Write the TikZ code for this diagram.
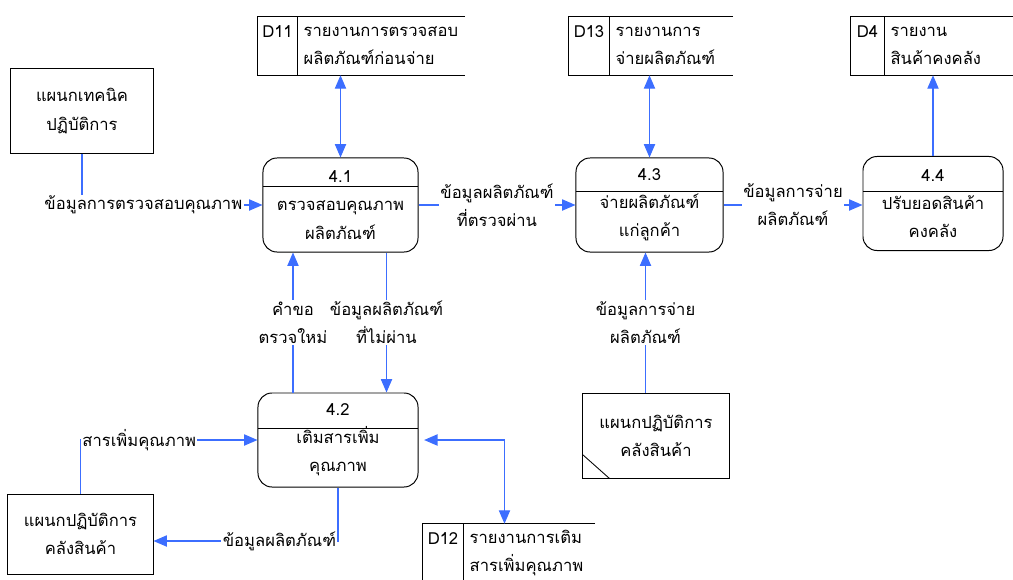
\documentclass[tikz,border=0pt]{standalone}
\usepackage{fontspec}
\setmainfont[Script=Thai]{Loma}
\usepackage{xcolor}
\usepackage{tikz}
\usetikzlibrary{positioning,arrows.meta,calc}
\definecolor{flowblue}{RGB}{60,110,255}

\begin{document}
\begin{tikzpicture}[
  x=0.025cm, y=-0.025cm,
  font=\fontsize{11.8pt}{20pt}\selectfont,
  ent/.style={draw, line width=0.7pt, minimum height=2.1cm, align=center},
  proc/.style={draw, line width=0.7pt, rounded corners=10pt, minimum height=2.35cm, align=center,
    path picture={\draw[line width=0.7pt] ([yshift=-#1]path picture bounding box.north west) -- ([yshift=-#1]path picture bounding box.north east);}},
  store/.style={minimum height=1.45cm, inner xsep=4pt, align=left},
  sid/.style={minimum height=1.45cm, inner sep=0pt, align=center},
  arr/.style={-{Triangle[length=9.5pt,width=8pt]}, draw=flowblue, line width=0.75pt},
  darr/.style={{Triangle[length=9.5pt,width=8pt]}-{Triangle[length=9.5pt,width=8pt]}, draw=flowblue, line width=0.75pt},
  lbl/.style={fill=white, inner sep=1pt, align=center},
  node distance=0pt]
  \useasboundingbox (0,0) rectangle (1013,579);
  \node[proc=20pt, minimum width=3.875cm] (p41) at (340.5,205) {4.1\\ตรวจสอบคุณภาพ\\ผลิตภัณฑ์};
  \node[proc=23.5pt, minimum width=3.675cm] (p43) at (649.5,205) {4.3\\จ่ายผลิตภัณฑ์\\แก่ลูกค้า};
  \node[proc=25pt, minimum width=3.5cm] (p44) at (933,203.5) {4.4\\ปรับยอดสินค้า\\คงคลัง};
  \node[proc=25.5pt, minimum width=4cm] (p42) at (338,440) {4.2\\เติมสารเพิ่ม\\คุณภาพ};
  \node[ent, minimum width=3.55cm] (tech) at (82,111) {แผนกเทคนิค\\ปฏิบัติการ};
  \node[ent, minimum width=3.625cm, minimum height=2cm] (stock) at (80.5,534) {แผนกปฏิบัติการ\\คลังสินค้า};
  \node[ent, minimum width=3.65cm, minimum height=2.125cm] (stockb) at (656,435.5) {แผนกปฏิบัติการ\\คลังสินค้า};
  \node[store, text width=3.89cm] (d11) at (381.5,46) {รายงานการตรวจสอบ\\ผลิตภัณฑ์ก่อนจ่าย};
  \node[sid, minimum width=1cm, left=of d11] (d11-id) {D11\\\mbox{}};
  \node[store, text width=2.79cm] (d13) at (671.5,46) {รายงานการ\\จ่ายผลิตภัณฑ์};
  \node[sid, minimum width=1.025cm, left=of d13] (d13-id) {D13\\\mbox{}};
  \node[store, text width=2.92cm] (d4) at (949,46) {รายงาน\\สินค้าคงคลัง};
  \node[sid, minimum width=0.85cm, left=of d4] (d4-id) {D4\\\mbox{}};
  \node[store, text width=2.99cm] (d12) at (529.5,553) {รายงานการเติม\\สารเพิ่มคุณภาพ};
  \node[sid, minimum width=1.025cm, left=of d12] (d12-id) {D12\\\mbox{}};
  \foreach \s in {d11,d13,d4,d12} {
    \draw[line width=0.7pt] (\s.north east) -- (\s-id.north west) -- (\s-id.south west) -- (\s.south east);
    \draw[line width=0.7pt] (\s.north west) -- (\s.south west);
  }
  \draw[line width=0.6pt] ([yshift=0.6cm]stockb.south west) -- ([xshift=0.675cm]stockb.south west);
  \draw[darr] (p41.north) -- (p41.north |- d11.south);
  \draw[darr] (p43.north) -- (p43.north |- d13.south);
  \draw[arr] (p44.north) -- (p44.north |- d4.south);
  \draw[arr] (tech.south) |- node[lbl, pos=0.67] {ข้อมูลการตรวจสอบคุณภาพ} (p41.west);
  \draw[arr] (p41.east) -- node[lbl] {ข้อมูลผลิตภัณฑ์\\ที่ตรวจผ่าน} (p43.west);
  \draw[arr] (p43.east) -- node[lbl] {ข้อมูลการจ่าย\\ผลิตภัณฑ์} (p43.east -| p44.west);
  \draw[arr] ([xshift=-1.125cm]p42.north) -- node[lbl] {คำขอ\\ตรวจใหม่} ([xshift=-1.125cm]p42.north |- p41.south);
  \draw[arr] ([xshift=1.15cm]p41.south) -- node[lbl] {ข้อมูลผลิตภัณฑ์\\ที่ไม่ผ่าน} ([xshift=1.15cm]p41.south |- p42.north);
  \draw[arr] ([xshift=-0.1cm]p43.south |- stockb.north) -- node[lbl] {ข้อมูลการจ่าย\\ผลิตภัณฑ์} ([xshift=-0.1cm]p43.south);
  \draw[arr] (stock.north) |- node[lbl, anchor=west, pos=0.5] {สารเพิ่มคุณภาพ} (p42.west);
  \draw[arr] (p42.south) |- node[lbl, anchor=east, pos=0.5] {ข้อมูลผลิตภัณฑ์} ([yshift=-0.175cm]stock.east);
  \draw[darr, shorten <=4pt] (p42.east) -| ([xshift=-0.625cm]d12.north);
\end{tikzpicture}
\end{document}
